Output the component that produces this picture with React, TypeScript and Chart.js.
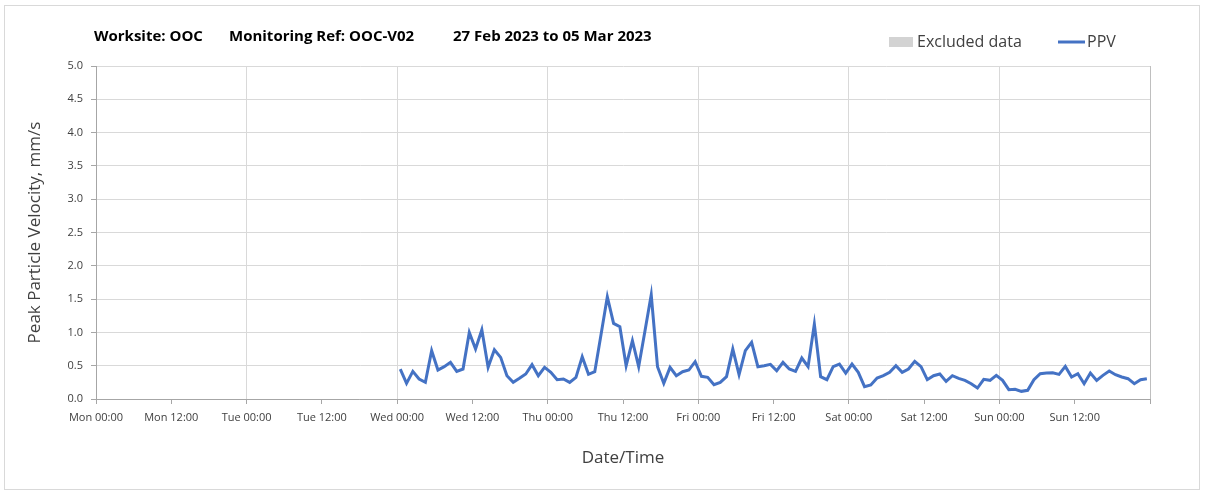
import React, { useEffect, useRef } from 'react';
import { Chart, registerables } from 'chart.js';

Chart.register(...registerables);

const titleParts = ['Worksite: OOC', 'Monitoring Ref: OOC-V02', '27 Feb 2023 to 05 Mar 2023'];
const titleX = [94, 229, 453];

const xTickLabels = [
  'Mon 00:00', 'Mon 12:00', 'Tue 00:00', 'Tue 12:00', 'Wed 00:00', 'Wed 12:00', 'Thu 00:00',
  'Thu 12:00', 'Fri 00:00', 'Fri 12:00', 'Sat 00:00', 'Sat 12:00', 'Sun 00:00', 'Sun 12:00', '',
];

const legendLabels = ['Excluded data', 'PPV'];

// hourly PPV readings (mm/s), first reading Wed 00:30 (hour 48.5 from Mon 00:00)
const dataStartHour = 48.5;
const ppvValues = [
  0.45, 0.235, 0.415, 0.3, 0.25, 0.725, 0.435, 0.485, 0.55, 0.415,
  0.45, 1.0, 0.75, 1.04, 0.475, 0.74, 0.625, 0.35, 0.25, 0.31,
  0.375, 0.515, 0.35, 0.475, 0.4, 0.29, 0.3, 0.25, 0.325, 0.635,
  0.37, 0.41, 0.97, 1.535, 1.135, 1.085, 0.5, 0.875, 0.485, 1.02,
  1.565, 0.485, 0.235, 0.475, 0.35, 0.41, 0.435, 0.56, 0.34, 0.325,
  0.215, 0.25, 0.335, 0.75, 0.365, 0.725, 0.85, 0.485, 0.5, 0.52,
  0.425, 0.55, 0.45, 0.415, 0.615, 0.485, 1.125, 0.335, 0.29, 0.485,
  0.525, 0.39, 0.525, 0.4, 0.185, 0.21, 0.315, 0.35, 0.4, 0.5,
  0.4, 0.45, 0.565, 0.485, 0.29, 0.35, 0.375, 0.265, 0.35, 0.31,
  0.28, 0.23, 0.165, 0.295, 0.28, 0.355, 0.28, 0.14, 0.145, 0.115,
  0.13, 0.29, 0.38, 0.39, 0.395, 0.37, 0.49, 0.33, 0.38, 0.23,
  0.39, 0.28, 0.355, 0.42, 0.365, 0.33, 0.305, 0.23, 0.29, 0.305,
];

const FONT = '"Open Sans", sans-serif';
const PPV_COLOR = '#4472C4';
const EXCLUDED_COLOR = '#d3d3d3';

export default function App() {
  const ref = useRef<HTMLCanvasElement>(null);

  useEffect(() => {
    document.body.style.margin = '0';
    const canvas = ref.current;
    if (!canvas) return;

    const points = ppvValues.map((v, i) => ({ x: dataStartHour + i, y: v }));

    const decor = {
      id: 'decor',
      beforeDraw(chart: any) {
        const ctx = chart.ctx;
        ctx.save();
        ctx.fillStyle = '#ffffff';
        ctx.fillRect(0, 0, chart.width, chart.height);
        ctx.strokeStyle = '#d9d9d9';
        ctx.lineWidth = 1;
        ctx.strokeRect(4.5, 5.5, 1195, 484);
        ctx.restore();
      },
      afterDraw(chart: any) {
        const ctx = chart.ctx;
        ctx.save();
        ctx.textBaseline = 'middle';
        ctx.textAlign = 'left';
        ctx.fillStyle = '#000000';
        ctx.font = `bold 15px ${FONT}`;
        titleParts.forEach((t, i) => ctx.fillText(t, titleX[i], 37));

        // legend
        ctx.font = `16px ${FONT}`;
        ctx.fillStyle = EXCLUDED_COLOR;
        ctx.fillRect(889, 37, 24, 10);
        ctx.fillStyle = '#404040';
        ctx.fillText(legendLabels[0], 917, 42);
        ctx.strokeStyle = PPV_COLOR;
        ctx.lineWidth = 3;
        ctx.beginPath();
        ctx.moveTo(1058, 42);
        ctx.lineTo(1085, 42);
        ctx.stroke();
        ctx.fillStyle = '#404040';
        ctx.fillText(legendLabels[1], 1087, 42);
        ctx.restore();
      },
    };

    const chart = new Chart(canvas, {
      type: 'line',
      data: {
        datasets: [
          {
            label: legendLabels[0],
            data: [],
            backgroundColor: EXCLUDED_COLOR,
            borderColor: EXCLUDED_COLOR,
            pointRadius: 0,
          },
          {
            label: legendLabels[1],
            data: points,
            borderColor: PPV_COLOR,
            backgroundColor: PPV_COLOR,
            borderWidth: 3,
            pointRadius: 0,
            tension: 0,
          },
        ],
      },
      options: {
        responsive: false,
        animation: false,
        layout: { padding: { left: 0, top: 66, right: 58, bottom: 0 } },
        plugins: {
          legend: { display: false },
          title: { display: false },
          tooltip: { enabled: false },
        },
        scales: {
          x: {
            type: 'linear',
            min: 0,
            max: 168,
            afterFit(scale: any) {
              scale.height = 93;
            },
            ticks: {
              stepSize: 12,
              autoSkip: false,
              maxRotation: 0,
              minRotation: 0,
              padding: 7,
              color: '#404040',
              font: { family: FONT, size: 11 },
              callback: (value: any) => xTickLabels[Math.round(Number(value) / 12)] ?? '',
            },
            grid: {
              color: (c: any) => {
                const v = c.tick ? c.tick.value : 0;
                if (v === 168) return '#bfbfbf';
                return v % 24 === 0 ? '#d9d9d9' : 'rgba(0,0,0,0)';
              },
              tickColor: '#a6a6a6',
              tickLength: 5,
              drawTicks: true,
            },
            border: { color: '#a6a6a6' },
            title: {
              display: true,
              text: 'Date/Time',
              color: '#404040',
              font: { family: FONT, size: 17 },
              padding: { top: 0, bottom: 24 },
            },
          },
          y: {
            min: 0,
            max: 5,
            afterFit(scale: any) {
              scale.width = 96;
            },
            ticks: {
              stepSize: 0.5,
              padding: 8,
              color: '#404040',
              font: { family: FONT, size: 11 },
              callback: (value: any) => Number(value).toFixed(1),
            },
            grid: {
              color: '#d9d9d9',
              tickColor: '#a6a6a6',
              tickLength: 5,
            },
            border: { color: '#a6a6a6' },
            title: {
              display: true,
              text: 'Peak Particle Velocity, mm/s',
              color: '#404040',
              font: { family: FONT, size: 17 },
              padding: { top: 25, bottom: 0 },
            },
          },
        },
      },
      plugins: [decor],
    });

    return () => chart.destroy();
  }, []);

  return (
    <div style={{ width: 1208, height: 492 }}>
      <canvas ref={ref} width={1208} height={492} style={{ display: 'block' }} />
    </div>
  );
}
